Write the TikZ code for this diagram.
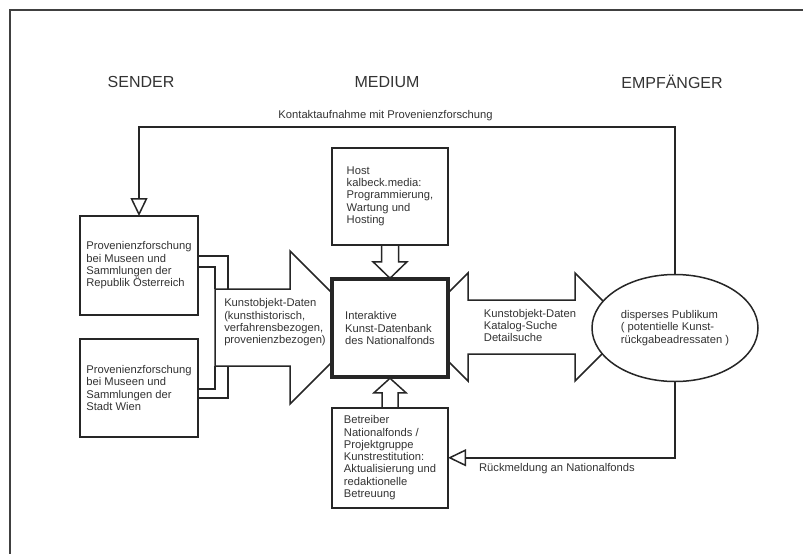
\documentclass[tikz,border=0pt]{standalone}
\usepackage{fontspec}
\setmainfont{Liberation Sans}
\usetikzlibrary{arrows.meta,positioning,shapes.geometric,backgrounds}

\begin{document}
\begin{tikzpicture}[
  x=1pt,y=-1pt,
  font=\fontsize{11.2}{12.3}\selectfont,
  every node/.style={text=black!80},
  box/.style={rectangle,draw=black!85,fill=white,line width=1.5pt,align=left,outer sep=0pt,minimum width=116pt},
  dbbox/.style={box,line width=4pt,minimum height=98.5pt},
  blk/.style={draw=black!85,fill=white,line width=1.5pt},
  ln/.style={draw=black!85,line width=1.5pt},
  tri/.style={-{Triangle[length=18pt,width=17pt,fill=white]}},
  head/.style={font=\fontsize{16}{18}\selectfont}
]
\useasboundingbox (0,0) rectangle (803,554);
\draw[line width=1.5pt,black!75] (803,10) -- (10,10) -- (10,554);

\node[head] (hsend) at (141,82) {SENDER};
\node[head] (hmed) at (387,82) {MEDIUM};
\node[head] (hemp) at (672,82) {EMPFÄNGER};

\node[dbbox] (db) at (390,328) {Interaktive\\Kunst-Datenbank\\des Nationalfonds};
\node[box,minimum height=97pt,above=34pt of db] (host) {Host\\kalbeck.media:\\Programmierung,\\Wartung und\\Hosting};
\node[box,minimum height=100pt,below=30.5pt of db] (betr) {Betreiber\\Nationalfonds /\\Projektgruppe\\Kunstrestitution:\\Aktualisierung und\\redaktionelle\\Betreuung};
\node[box,minimum width=118pt,minimum height=99pt] (sender1) at (139,265.5) {Provenienzforschung\\bei Museen und\\Sammlungen der\\Republik Österreich};
\node[box,minimum width=118pt,minimum height=98pt] (sender2) at (139,388) {Provenienzforschung\\bei Museen und\\Sammlungen der\\Stadt Wien};
\node[ellipse,draw=black!85,fill=white,line width=1.5pt,align=left,inner sep=0pt,outer sep=0pt,minimum width=166pt,minimum height=107pt] (pub) at (675,328) {disperses Publikum\\( potentielle Kunst-\\rückgabeadressaten )};

\begin{scope}[on background layer]
  % Datenpfeile
  \draw[blk] (db.west) ++(-117,-39) -- ++(75,0) -- ++(0,-38) -- ++(76.5,76.5) -- ++(-76.5,76.5) -- ++(0,-38) -- ++(-75,0) -- cycle;
  \draw[blk] (db.east) ++(-34,-1) -- ++(54,-54) -- ++(0,27) -- ++(107,0) -- ++(0,-27) -- ++(54,54) -- ++(-54,54) -- ++(0,-27) -- ++(-107,0) -- ++(0,27) -- cycle;
  \draw[blk] (host.south) ++(-8.5,0) -- ++(0,17) -- ++(-8.5,0) -- ++(17,16.5) -- ++(17,-16.5) -- ++(-8.5,0) -- ++(0,-17) -- cycle;
  \draw[blk] (betr.north) ++(-8,0) -- ++(0,-15) -- ++(-8,0) -- ++(16,-14.5) -- ++(16,14.5) -- ++(-8,0) -- ++(0,15) -- cycle;
\end{scope}

% Anschluss der Sender
\draw[ln] (sender1.east) ++(0,-9.5) -| ++(30,33);
\draw[ln] (sender1.east) ++(0,1.5) -| ++(17,22);
\draw[ln] (sender2.east) ++(0,1) -| ++(17,-23);
\draw[ln] (sender2.east) ++(0,10) -| ++(30,-32);

\node[align=left] (ldata) at (275,322.5) {Kunstobjekt-Daten\\(kunsthistorisch,\\verfahrensbezogen,\\provenienzbezogen)};
\node[align=left] (rdata) at (530,325.5) {Kunstobjekt-Daten\\Katalog-Suche\\Detailsuche};

% Rueckkopplung
\draw[ln,tri] (pub.north) -- ++(0,-147.5) -| node[pos=.27,above=2pt]{Kontaktaufnahme mit Provenienzforschung} (sender1.north);
\draw[ln,tri] (pub.south) |- node[pos=.76,below=2pt]{Rückmeldung an Nationalfonds} (betr.east);
\end{tikzpicture}
\end{document}
